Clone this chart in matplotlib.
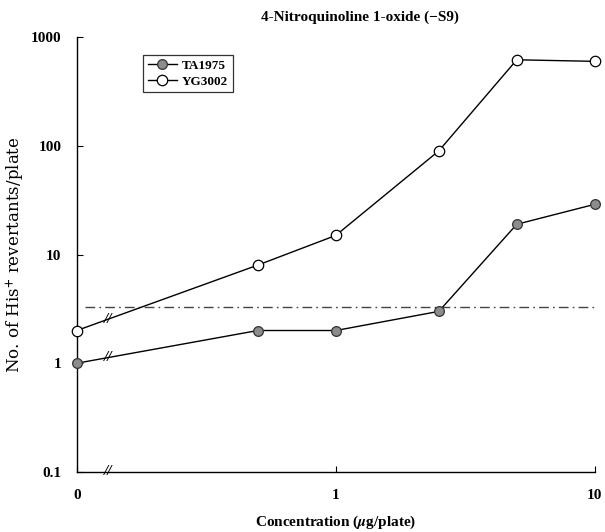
import numpy as np
import matplotlib
matplotlib.use("Agg")
import matplotlib.pyplot as plt

# Concentration (ug/plate) and revertant counts per strain
concentrations = [0, 0.5, 1, 2.5, 5, 10]
ta1975 = [1, 2, 2, 3, 19, 29]
yg3002 = [2, 8, 15, 90, 620, 600]
control_level = 3.3
x_tick_labels = ["0", "1", "10"]
y_ticks = [0.1, 1, 10, 100, 1000]
y_tick_labels = ["0.1", "1", "10", "100", "1000"]

plt.rcParams["font.family"] = ["Liberation Serif", "DejaVu Serif"]
plt.rcParams["font.weight"] = "bold"
plt.rcParams["mathtext.fontset"] = "stix"

ZERO_POS = -1.0    # where the zero dose sits on the log axis
BREAK_POS = -0.88  # axis-break marker position


def xpos(c):
    return np.log10(c) if c > 0 else ZERO_POS


xs = np.array([xpos(c) for c in concentrations])

fig = plt.figure(figsize=(6.05, 5.32), dpi=100)
ax = fig.add_axes([0.127, 0.113, 0.856, 0.817])

ax.set_yscale("log")
ax.set_ylim(0.1, 1000)
ax.set_xlim(ZERO_POS, 1.0)

# Control (spontaneous) reference level
ax.plot([-0.97, 1.0], [control_level, control_level], color="#444444",
        lw=1.0, linestyle=(0, (7, 3, 1.2, 3)), zorder=1)

ax.plot(xs, ta1975, color="black", lw=1.0, marker="o", markersize=7,
        markerfacecolor="#8c8c8c", markeredgecolor="#333333",
        markeredgewidth=0.9, label="TA1975", zorder=3, clip_on=False)
ax.plot(xs, yg3002, color="black", lw=1.0, marker="o", markersize=7.5,
        markerfacecolor="white", markeredgecolor="black",
        markeredgewidth=0.9, label="YG3002", zorder=3, clip_on=False)

# Axis-break marks on the first segment of each series and on the x axis
for series in (ta1975, yg3002):
    y0, y1 = np.log10(series[0]), np.log10(series[1])
    t = (BREAK_POS - xs[0]) / (xs[1] - xs[0])
    yb = 10 ** (y0 + t * (y1 - y0))
    ax.text(BREAK_POS, yb, "//", ha="center", va="center", fontsize=11,
            fontstyle="italic", fontweight="bold", zorder=4)
ax.text(BREAK_POS, 0.1, "//", ha="center", va="center", fontsize=11,
        fontstyle="italic", fontweight="bold", zorder=4, clip_on=False)

for side in ("top", "right"):
    ax.spines[side].set_visible(False)
for side in ("left", "bottom"):
    ax.spines[side].set_linewidth(1.0)

ax.set_xticks([ZERO_POS, 0.0, 1.0])
ax.set_xticklabels(x_tick_labels, fontsize=11, fontweight="bold")
ax.set_yticks(y_ticks)
ax.set_yticklabels(y_tick_labels, fontsize=11, fontweight="bold")
ax.yaxis.set_minor_locator(matplotlib.ticker.NullLocator())
ax.tick_params(axis="both", direction="in", length=4, width=0.8)
ax.tick_params(axis="x", pad=12)
ax.tick_params(axis="y", pad=11)

ax.set_xlabel(r"Concentration ($\mu$g/plate)", fontsize=11,
              fontweight="bold", labelpad=9)
ax.set_ylabel(r"No. of His$^{+}$ revertants/plate", fontsize=12,
              family="DejaVu Serif", fontweight="normal", labelpad=3)

fig.text(0.595, 0.967, "4-Nitroquinoline 1-oxide (\u2212S9)", ha="center",
         va="center", fontsize=11, fontweight="bold")

leg = ax.legend(loc="upper left", bbox_to_anchor=(0.115, 0.975),
                fontsize=9.5, frameon=True, fancybox=False,
                edgecolor="black", handlelength=2.2, borderpad=0.35,
                labelspacing=0.3, handletextpad=0.4)
leg.get_frame().set_linewidth(0.9)
for t in leg.get_texts():
    t.set_fontweight("bold")

fig.savefig("out.png", dpi=100)
